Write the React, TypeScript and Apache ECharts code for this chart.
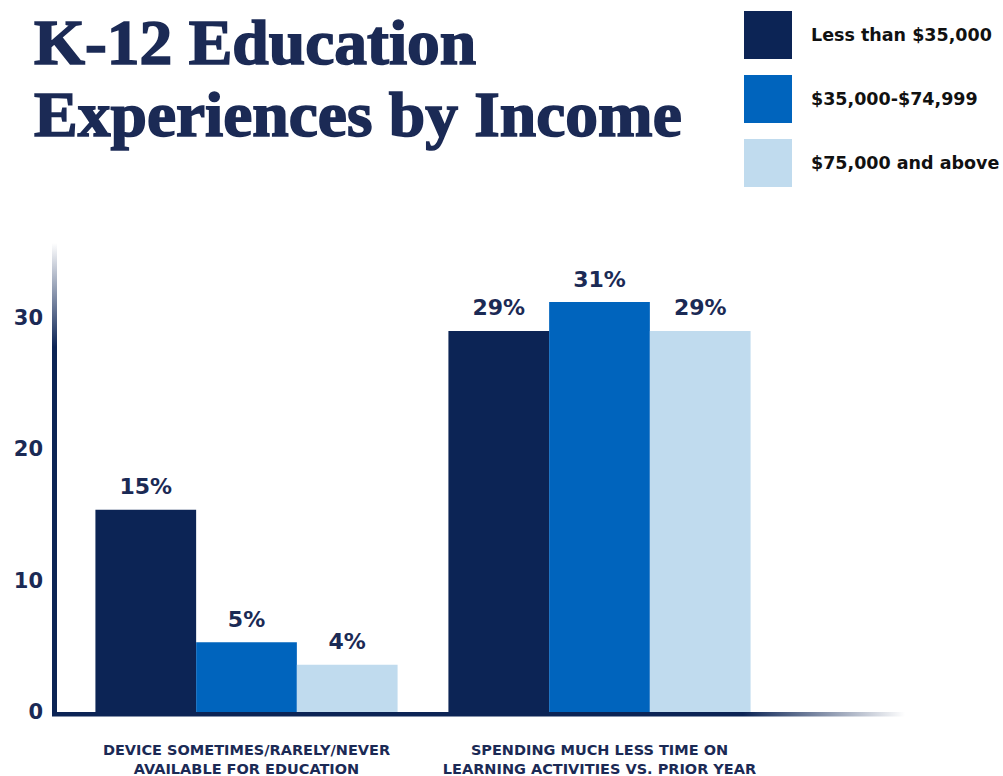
import React, { useEffect, useRef } from "react";
import * as echarts from "echarts";

const titleText = "K-12 Education\nExperiences by Income";
const categories = [
  "DEVICE SOMETIMES/RARELY/NEVER\nAVAILABLE FOR EDUCATION",
  "SPENDING MUCH LESS TIME ON\nLEARNING ACTIVITIES VS. PRIOR YEAR",
];
const seriesNames = ["Less than $35,000", "$35,000-$74,999", "$75,000 and above"];
const lowIncome = [15.4, 29.0];
const midIncome = [5.3, 31.2];
const highIncome = [3.6, 29.0];
const yTicks = [0, 10, 20, 30];

const NAVY = "#1b2a55";
const COLORS = ["#0c2455", "#0064bd", "#c0dbee"];

export default function App() {
  const ref = useRef<HTMLDivElement>(null);
  useEffect(() => {
    document.body.style.margin = "0";
    const chart = echarts.init(ref.current!, null, { renderer: "svg" });
    const gridLeft = 70;
    const gridTop = 239;
    const gridBottom = 64;
    const zeroY = 776 - gridBottom;
    const series = [lowIncome, midIncome, highIncome].map((d, i) => ({
      name: seriesNames[i],
      type: "bar",
      data: d,
      barGap: "0%",
      barCategoryGap: "14.4%",
      itemStyle: { color: COLORS[i] },
      label: {
        show: true,
        position: "top",
        distance: 12,
        formatter: (p: any) => Math.round(p.value) + "%",
        color: NAVY,
        fontFamily: "DejaVu Sans",
        fontWeight: "bold",
        fontSize: 22,
      },
    }));
    chart.setOption({
      animation: false,
      legend: {
        orient: "vertical",
        left: 744,
        top: 11,
        padding: 0,
        itemWidth: 48,
        itemHeight: 48,
        itemGap: 16,
        icon: "rect",
        data: seriesNames,
        selectedMode: false,
        textStyle: {
          fontFamily: "DejaVu Sans",
          fontWeight: "bold",
          fontSize: 17.5,
          color: "#111111",
          padding: [0, 0, 0, 14],
        },
      },
      grid: {
        left: gridLeft,
        right: 227,
        top: gridTop,
        bottom: gridBottom,
        containLabel: false,
        outerBoundsMode: "none",
      },
      xAxis: {
        type: "category",
        data: categories,
        axisLine: { show: false },
        axisTick: { show: false },
        axisLabel: {
          interval: 0,
          color: NAVY,
          fontFamily: "DejaVu Sans",
          fontWeight: "bold",
          fontSize: 14.5,
          lineHeight: 19,
          margin: 28,
        },
      },
      yAxis: {
        type: "value",
        min: 0,
        max: 36,
        interval: 10,
        offset: 16,
        splitLine: { show: false },
        axisLine: { show: false },
        axisTick: { show: false },
        axisLabel: {
          showMaxLabel: false,
          formatter: (v: number) => (yTicks.includes(v) ? String(v) : ""),
          color: NAVY,
          fontFamily: "DejaVu Sans",
          fontWeight: "bold",
          fontSize: 21,
          margin: 11,
        },
      },
      graphic: [
        {
          type: "text",
          x: 34,
          y: 7,
          scaleX: 1.04,
          style: {
            text: titleText,
            fontFamily: "Liberation Serif",
            fontWeight: "bold",
            fontSize: 63,
            lineHeight: 72,
            fill: NAVY,
            stroke: NAVY,
            lineWidth: 1.6,
            verticalAlign: "top",
          },
        },
        {
          type: "rect",
          z: 10,
          shape: { x: 52, y: 243, width: 5, height: zeroY + 4 - 243 },
          style: {
            fill: new echarts.graphic.LinearGradient(0, 0, 0, 1, [
              { offset: 0, color: "rgba(12,36,85,0)" },
              { offset: 0.22, color: "rgba(12,36,85,1)" },
              { offset: 1, color: "rgba(12,36,85,1)" },
            ]),
          },
        },
        {
          type: "rect",
          z: 10,
          shape: { x: 52, y: zeroY, width: 905 - 52, height: 4.5 },
          style: {
            fill: new echarts.graphic.LinearGradient(0, 0, 1, 0, [
              { offset: 0, color: "rgba(12,36,85,1)" },
              { offset: 0.81, color: "rgba(12,36,85,1)" },
              { offset: 1, color: "rgba(12,36,85,0)" },
            ]),
          },
        },
      ],
      series,
    });
    return () => chart.dispose();
  }, []);
  return (
    <div
      ref={ref}
      style={{ position: "fixed", left: 0, top: 0, width: 1003, height: 776, background: "#fff" }}
    />
  );
}
